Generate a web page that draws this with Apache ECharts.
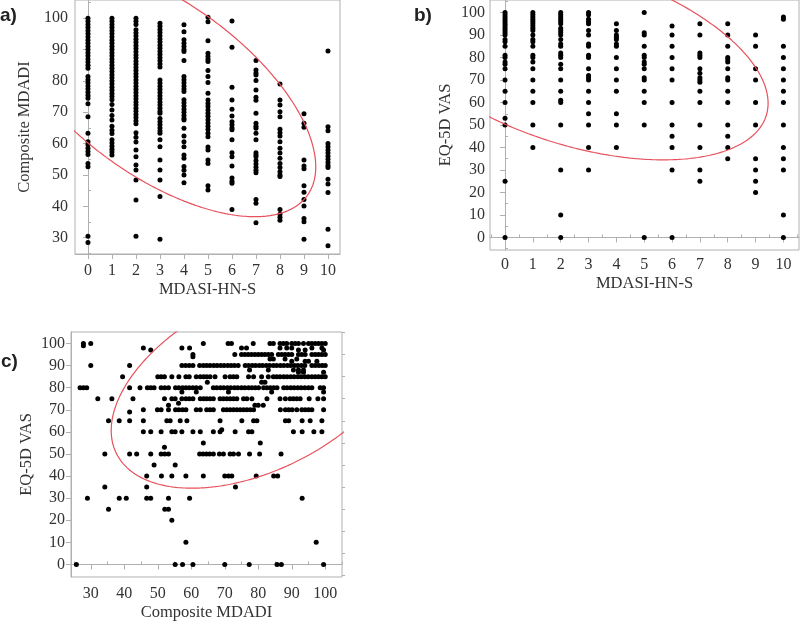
<!DOCTYPE html>
<html><head><meta charset="utf-8">
<script src="https://cdn.jsdelivr.net/npm/echarts@6/dist/echarts.min.js"></script>
<style>html,body{margin:0;padding:0;background:#fff}#c{width:800px;height:622px}</style>
</head><body><div id="c"></div>
<script>
// ---------- Panel a: MDASI-HN-S (x) vs Composite MDADI (y) ----------
const aX = [0,1,2,3,4,5,6,7,8,9,10];
const aY = [
  [100,99,98,97,96,95,94,93,92,91,90,89,88,87,86,85,84,81.4,80.4,79.4,78.4,77.4,76.4,75.4,74.5,72.7,68.6,63.3,60.6,59.6,58.5,57.5,56.5,53.7,52.6,30.5,28.5],
  [100,99,98,97,96,95,94,93,92,91,90,89,88,87,86,85,84,83,82,81,80,79,78,77,76,75,74,72.5,70.7,69,67.5,65.5,64.3,63.2,61.2,60.2,59.2,58.2,57.3,56.4],
  [100,99,98,96.3,95.3,94.3,93.3,92.3,91.3,90.3,89.3,88.3,87.3,86.3,85.3,84.3,83.3,82.3,81.3,80.3,79.3,78.3,77.3,76.3,75.3,74.3,73.3,72.3,71.3,70.3,69.3,68.3,67.3,66.3,63.5,62,60.5,58,55.8,53.2,51.6,48.4,42,30.5],
  [98.4,97.4,96.4,95.4,94.4,93.4,92.4,91.4,90.4,89.4,88.4,87.4,86.4,85.4,84.4,80.3,79.3,78.3,77.3,76.3,75.3,74.3,73.3,72.3,71.3,70.3,69.7,68,67,66,65,64,63.3,61.2,59,54.8,51.6,48.4,43.1,29.5],
  [97.9,95.7,93.1,92,91,90,89.4,86.5,81.4,80.4,79.4,78.4,77.4,76.6,74,73,72,71,70,69,68,67.5,64.9,62.4,60.6,59,56.4,55.3,52.7,51.5,50,47.5],
  [100.3,98.9,92.8,88.8,87.8,86.9,86.2,83.3,81.4,79.5,76.1,73.9,72.8,71.8,70.7,69.7,68.7,67.6,66.6,65.5,64.5,63.3,62.2,58.9,58,54.8,53.7,46.6,45.2],
  [99.1,90.7,78,73.9,71,68.8,67,66,65,64.4,61.2,57.1,55.8,52.9,49,48,47.4,39],
  [86.5,83.5,82.5,81.9,80.1,77.1,74.8,73.8,69.7,66.5,65.5,64.9,63.3,61.2,57.1,56.4,55.8,54.5,53.5,52.5,51.5,50.7,42.2,41,34.8],
  [79,73.9,72.3,70.2,68.6,64.6,63.5,62.4,60.6,58.5,57,55.3,53.7,52.4,51,50,49.5,39,37.5,36.5,35.6],
  [69.5,66.5,65.2,54.8,52.9,52,46.6,44.5,42.2,40.1,36.1,35.1,29.5],
  [89.5,65.4,64.1,60,59,58,57,56,55,54,53,52.4,48.6,47.1,44.4,32.7,27.4]
];
const aXTicks = [0,1,2,3,4,5,6,7,8,9,10];
const aXMinor = [-0.5,0.5,1.5,2.5,3.5,4.5,5.5,6.5,7.5,8.5,9.5,10.5];
const aYTicks = [30,40,50,60,70,80,90,100];
const aYMinor = [25,35,45,55,65,75,85,95,105];
const aEllipse = {cx: 2.99, cy: 77.47, sx: 6.50, sy: 40.77, r: -0.61};

// ---------- Panel b: MDASI-HN-S (x) vs EQ-5D VAS (y) ----------
const bX = [0,1,2,3,4,5,6,7,8,9,10];
const bY = [
  [100,99,98,97,96,95,94,93,92,91,90,88,87,85,81,80,78,77,75,70,65,60,53,50,25,0],
  [100,99,98,97,96,95,94,93,92,90,88,87,85,81,80,78,75,70,65,60,50,40],
  [100,99,98,97,96,95,93,92,91,90,88,86,85,82,81,80,77,75,70,65,61,60,50,30,10,0],
  [100,99,97,96,95,92,90,86,85,81,80,75,72,71,70,65,60,55,50,40,30],
  [95,92,90,89,88,86,85,80,75,70,65,55,50,40],
  [100,91,90,85,81,80,78,77,75,71,70,65,60,50,0],
  [94,90,85,80,75,70,60,50,45,40,30,0],
  [95,90,82,81,80,75,73,71,70,69,65,60,50,40,30,25],
  [95,90,85,80,79,78,75,71,70,65,60,50,45,40,35],
  [90,85,75,70,60,50,35,30,25,20],
  [98,97,85,80,75,70,65,60,50,40,35,30,10,0]
];
const bXTicks = [0,1,2,3,4,5,6,7,8,9,10];
const bXMinor = [-0.5,0.5,1.5,2.5,3.5,4.5,5.5,6.5,7.5,8.5,9.5,10.5];
const bYTicks = [0,10,20,30,40,50,60,70,80,90,100];
const bYMinor = [-5,5,15,25,35,45,55,65,75,85,95,105];
const bEllipse = {cx: 2.61, cy: 80.3, sx: 6.84, sy: 45.8, r: -0.45};

// ---------- Panel c: Composite MDADI (x) vs EQ-5D VAS (y) ----------
const cRowY = [100,99,98,97,95,94,93,92,90,88,87,85,82.5,80,78,75,73,72,70,69,65,61,60,55,53,50,45,40,35,30,25,20,10,0];
const cRowX = [
  [27.8,30,63.6,71,72,78.5,83.5,84.5,86.5,87.5,88.5,90,91,92,93.5,95,96,97,98,99,100],
  [27.8],
  [45.7,57.2,59.5,75,76.5,86.5,88.5,90,96,99],
  [47.9,92,94,99.5],
  [60.5,73,75,76,77,78,79,80,81,82,83,84,86,87,88,89,90,92,93,94,96,97,98,99,100],
  [60.5],
  [83.5,84.5,88,91.5],
  [90,94,95,97.5],
  [30,41.6,57.2,58.3,59.4,60.5,62.5,63.6,64.6,65.6,66.7,67.7,68.8,69.8,70.9,71.9,72.9,74,76.1,77.1,78.2,79.2,80.3,81.3,82.4,83.4,84.5,85.5,86.6,87.6,88.7,89.7,90.8,91.8,92.9,93.9,96,97,98.1,99.1,100],
  [77.4,83,90.5,92,93.5],
  [92,93.5,99.5],
  [39.5,50,51,52,54.2,56.3,58.4,59.4,61.5,62.7,63.7,64.6,65.6,67.1,70.1,71.6,72.6,73.6,77.1,78.6,81,83,84.5,85.5,86.5,87.6,88.6,89.7,90.7,91.8,92.8,93.9,94.9,96,97,98,99,100],
  [64.8,81,82],
  [26.8,27.8,28.8,41.6,44.7,46.9,47.9,48.9,51,52.1,53.2,55.3,56.3,57.4,58.4,59.4,60.5,61.5,62.7,66.6,67.6,68.7,69.7,70.8,71.8,72.9,73.9,75,76,77.1,78.1,79.1,80.1,81.6,82.6,83.6,84.6,85.6,87.6,88.6,89.7,90.7,91.8,92.8,93.9,95,96,98.5,99.5],
  [57.2,61.5,71.1,84,99.5],
  [32.1,36.3,42.6,52,54.2,55.2,57.2,58.4,59.4,60.5,62.7,63.7,64.6,65.6,66.6,68.6,69.6,70.6,71.6,72.6,73.6,75.6,76.6,78.1,82.6,86.5,88.1,89.5,90.5,91.5,92.5,95.2,97.8,99.5],
  [56.2],
  [53.2,79,80,81.5],
  [45.7,49.9,51,53.2,55.3,56.3,57.4,58.4,61.5,62.7,64.6,65.6,66.6,69.6,70.6,71.6,72.6,73.6,74.6,75.6,76.6,77.6,78.6,86.6,88.1,89.1,90.1,91.5,93,94,95,96,99.5],
  [41.6],
  [35.3,38.5,41.6,45.7,52.7,53.7,56.7,58.7,68.6,75.1,78.6,79.6,88.1,89.1,93.1,95.5,99],
  [69.1],
  [45.7,47.9,51,54.2,55.2,57.2,60.5,62.7,66.6,68.6,73.1,77.1,78.1,90.5,93.1,96.6,99],
  [63.6,80.6],
  [52],
  [34.2,41.6,43.7,47.9,51,52.1,53.2,62.5,63.5,64.5,65.5,66.6,68.4,69.6,71.6,72.6,74.1,77.4,80.4,86.8],
  [48.9,55.2],
  [46.7,51.1,54.2,58.4,63.6,70,71.1,72.1,79.4,84.6,85.8],
  [34.2,46.7,73.2],
  [29,38.5,40.6,46.7,47.9,53.2,59.5,93.1],
  [35.3,52.1,53.2],
  [54.2],
  [58.4,97.3],
  [25.7,55.2,57.4,60.5,70,77.3,85.6,86.9,99.5]
];
const cXTicks = [30,40,50,60,70,80,90,100];
const cXMinor = [25,35,45,55,65,75,85,95,105];
const cYTicks = [0,10,20,30,40,50,60,70,80,90,100];
const cYMinor = [-5,5,15,25,35,45,55,65,75,85,95,105];
const cEllipse = {cx: 80, cy: 82, sx: 43.9, sy: 47.5, r: 0.45};

// ---------- helpers ----------
const FONT = 'Liberation Serif';
const TXT = '#333333';
const AX = '#b0b0b0';

function colPoints(xs, cols) {
  const out = [];
  cols.forEach((ys, i) => ys.forEach(y => out.push([xs[i], y])));
  return out;
}
function rowPoints(ys, rows) {
  const out = [];
  rows.forEach((xs, i) => xs.forEach(x => out.push([x, ys[i]])));
  return out;
}
function ellipsePath(e) {
  const pts = [];
  const s = Math.sqrt(1 - e.r * e.r);
  for (let k = 0; k <= 360; k++) {
    const t = k * Math.PI / 180;
    pts.push([e.cx + e.sx * Math.cos(t), e.cy + e.sy * (e.r * Math.cos(t) + s * Math.sin(t))]);
  }
  return pts;
}
function mainAxis(grid, min, max, majors, name, nameGap, margin) {
  return {
    type: 'value', gridIndex: grid, min: min, max: max,
    name: name, nameLocation: 'middle', nameGap: nameGap,
    nameTextStyle: {fontFamily: FONT, fontSize: 16.5, color: TXT},
    axisLine: {show: true, lineStyle: {color: AX, width: 1}},
    axisTick: {show: true, length: 5, customValues: majors, lineStyle: {color: AX}},
    axisLabel: {show: true, customValues: majors, margin: margin, fontFamily: FONT, fontSize: 16, color: TXT},
    splitLine: {show: false}
  };
}
function minorAxis(grid, min, max, minors) {
  return {
    type: 'value', gridIndex: grid, min: min, max: max,
    axisLine: {show: false},
    axisTick: {show: true, length: 3, customValues: minors, lineStyle: {color: AX}},
    axisLabel: {show: false},
    splitLine: {show: false}
  };
}

const aRange = {x: [-0.54, 10.5], y: [24.8, 105.8]};
const bRange = {x: [-0.54, 10.56], y: [-5.6, 105.6]};
const cRange = {x: [24.1, 105], y: [-5.7, 105.2]};

const chart = echarts.init(document.getElementById('c'), null, {renderer: 'canvas'});
const dotStyle = {color: '#000000', opacity: 1};
const lineStyle = {color: '#e8505b', width: 1.2};

chart.setOption({
  animation: false,
  backgroundColor: '#ffffff',
  grid: [
    {left: 75, top: 0, width: 265, height: 254, show: true, borderColor: AX, borderWidth: 1, backgroundColor: 'transparent'},
    {left: 490, top: 0, width: 309, height: 250, show: true, borderColor: AX, borderWidth: 1, backgroundColor: 'transparent'},
    {left: 71, top: 332, width: 271, height: 248, show: true, borderColor: AX, borderWidth: 1, backgroundColor: 'transparent'}
  ],
  xAxis: [
    mainAxis(0, aRange.x[0], aRange.x[1], aXTicks, 'MDASI-HN-S', 27, 9),
    minorAxis(0, aRange.x[0], aRange.x[1], aXMinor),
    mainAxis(1, bRange.x[0], bRange.x[1], bXTicks, 'MDASI-HN-S', 25, 7),
    minorAxis(1, bRange.x[0], bRange.x[1], bXMinor),
    mainAxis(2, cRange.x[0], cRange.x[1], cXTicks, 'Composite MDADI', 27, 9),
    minorAxis(2, cRange.x[0], cRange.x[1], cXMinor)
  ],
  yAxis: [
    mainAxis(0, aRange.y[0], aRange.y[1], aYTicks, 'Composite MDADI', 42, 7),
    minorAxis(0, aRange.y[0], aRange.y[1], aYMinor),
    mainAxis(1, bRange.y[0], bRange.y[1], bYTicks, 'EQ-5D VAS', 36, 5),
    minorAxis(1, bRange.y[0], bRange.y[1], bYMinor),
    mainAxis(2, cRange.y[0], cRange.y[1], cYTicks, 'EQ-5D VAS', 36, 6),
    minorAxis(2, cRange.y[0], cRange.y[1], cYMinor)
  ],
  graphic: [
    {type: 'text', left: 0, top: 6, style: {text: 'a)', font: 'bold 19px "Liberation Sans"', fill: '#222'}},
    {type: 'text', left: 414, top: 6, style: {text: 'b)', font: 'bold 19px "Liberation Sans"', fill: '#222'}},
    {type: 'text', left: 1, top: 352, style: {text: 'c)', font: 'bold 19px "Liberation Sans"', fill: '#222'}}
  ],
  series: [
    {type: 'scatter', xAxisIndex: 0, yAxisIndex: 0, data: colPoints(aX, aY), symbolSize: 5, itemStyle: dotStyle, silent: true},
    {type: 'line', xAxisIndex: 0, yAxisIndex: 0, data: ellipsePath(aEllipse), showSymbol: false, clip: true, lineStyle: lineStyle, silent: true},
    {type: 'scatter', xAxisIndex: 2, yAxisIndex: 2, data: colPoints(bX, bY), symbolSize: 5, itemStyle: dotStyle, silent: true},
    {type: 'line', xAxisIndex: 2, yAxisIndex: 2, data: ellipsePath(bEllipse), showSymbol: false, clip: true, lineStyle: lineStyle, silent: true},
    {type: 'scatter', xAxisIndex: 4, yAxisIndex: 4, data: rowPoints(cRowY, cRowX), symbolSize: 5, itemStyle: dotStyle, silent: true},
    {type: 'line', xAxisIndex: 4, yAxisIndex: 4, data: ellipsePath(cEllipse), showSymbol: false, clip: true, lineStyle: lineStyle, silent: true}
  ]
});
</script></body></html>
